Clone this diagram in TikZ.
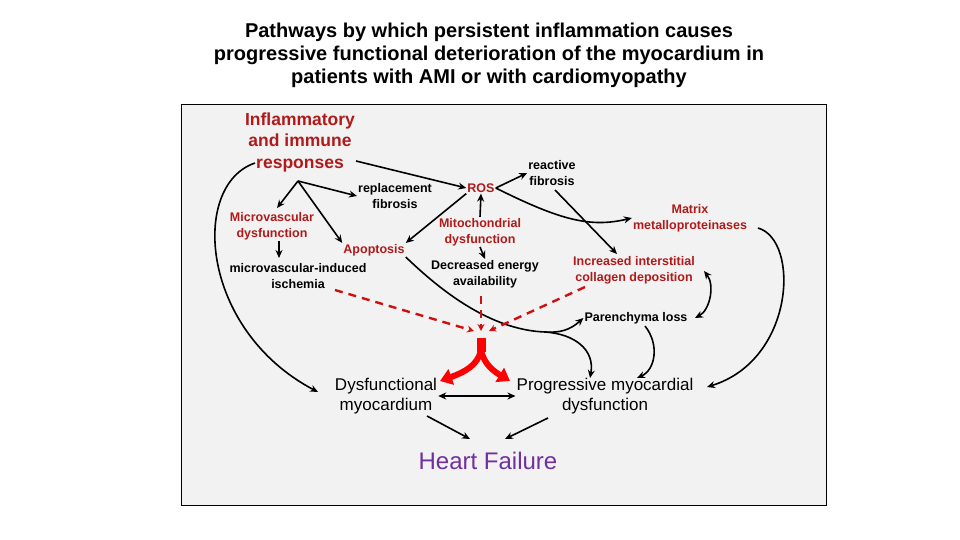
\documentclass[tikz,border=0pt]{standalone}
\usepackage{fontspec}
\setmainfont{Liberation Sans}
\usetikzlibrary{arrows.meta}
\definecolor{dred}{HTML}{B01A1A}
\definecolor{hf}{HTML}{7030A0}
\begin{document}
\begin{tikzpicture}[x=1pt,y=-1pt,
  lbl/.style={align=center,font=\fontsize{12.5}{16}\selectfont\bfseries,inner sep=1pt},
  rlbl/.style={lbl,text=dred},
  big/.style={align=center,font=\fontsize{17}{19.5}\selectfont,inner sep=1pt},
  arr/.style={-{Stealth[length=8pt,width=7pt]},line width=1.6pt},
  darr/.style={{Stealth[length=8pt,width=7pt]}-{Stealth[length=8pt,width=7pt]},line width=1.6pt},
  rdash/.style={-{Stealth[length=7pt,width=7pt]},line width=2.4pt,dred!60!red,dash pattern=on 8pt off 6pt}]
\useasboundingbox (0,0) rectangle (960,540);
\node[align=center,font=\fontsize{20}{23}\selectfont\bfseries] (title) at (489,55) {Pathways by which persistent inflammation causes\\progressive functional deterioration of the myocardium in\\patients with AMI or with cardiomyopathy};
\draw[fill=black!5,line width=1pt] (181,105) rectangle (826,505);
\node[align=center,text=dred,font=\fontsize{17.5}{21.5}\selectfont\bfseries] (inf) at (300,142) {Inflammatory\\and immune\\responses};
\node[lbl] (rep) at (395,196) {replacement\\fibrosis};
\node[rlbl] (ros) at (481,188) {ROS};
\node[lbl] (rea) at (552,173) {reactive\\fibrosis};
\node[rlbl] (mvd) at (272,226) {Microvascular\\dysfunction};
\node[rlbl] (mit) at (480,232) {Mitochondrial\\dysfunction};
\node[rlbl] (mmp) at (690,218) {Matrix\\metalloproteinases};
\node[rlbl] (apo) at (374,250) {Apoptosis};
\node[lbl] (dec) at (485,274) {Decreased energy\\availability};
\node[rlbl] (col) at (634,270) {Increased interstitial\\collagen deposition};
\node[lbl] (isc) at (298,276) {microvascular-induced\\ischemia};
\node[lbl] (par) at (636,318) {Parenchyma loss};
\node[big] (dys) at (386,396) {Dysfunctional\\myocardium};
\node[big] (pro) at (605,396) {Progressive myocardial\\dysfunction};
\node[text=hf,font=\fontsize{24}{28}\selectfont] (hfl) at (488,461) {Heart Failure};
\coordinate (fork) at (298,181);
\coordinate (br) at (545,332);
% arrows
\draw[arr] (356,161) -- (ros.west);
\draw[arr] (fork) -- (277,208);
\draw[arr] (fork) -- (rep.west);
\draw[arr] (fork) -- (apo.north west);
\draw[arr] (ros.south west) -- (apo.north east);
\draw[arr] (ros.east) -- (rea.west);
\draw[arr] (mit.north) -- (ros.south);
\draw[arr] (mit.south) -- (dec.north);
\draw[arr] (ros.east) .. controls (560,220) and (590,228) .. (mmp.west);
\draw[arr] (555,190) -- (617,254);
\draw[arr] (279,241) -- (279,258);
\draw[line width=1.6pt] (apo.south east) .. controls (440,290) and (490,330) .. (br);
\draw[arr] (br) .. controls (560,333) and (570,330) .. (par.west);
\draw[arr] (br) .. controls (575,334) and (595,350) .. (590,378);
\draw[darr] (704,271) .. controls (715,285) and (710,310) .. (695,318);
\draw[arr] (645,326) .. controls (660,345) and (655,370) .. (637,378);
\draw[arr] (758,228) .. controls (800,240) and (795,360) .. (707,387);
\draw[arr] (255,163) .. controls (190,185) and (200,330) .. (318,392);
\draw[darr] (dys.east) -- (pro.west);
\draw[arr] (427,416) -- (470,439);
\draw[arr] (548,418) -- (505,439);
% red dashed
\draw[rdash] (335,290) -- (474,331);
\draw[rdash] (481,296) -- (481,331);
\draw[rdash] (585,287) -- (489,331);
% red fork
\fill[red] (477,338) rectangle (486,352);
\draw[red,line width=6pt,-{Triangle[length=12pt,width=16pt]}] (481,350) .. controls (478,365) and (465,372) .. (440,381);
\draw[red,line width=6pt,-{Triangle[length=12pt,width=16pt]}] (481,350) .. controls (484,365) and (495,372) .. (510,381);
\end{tikzpicture}
\end{document}
